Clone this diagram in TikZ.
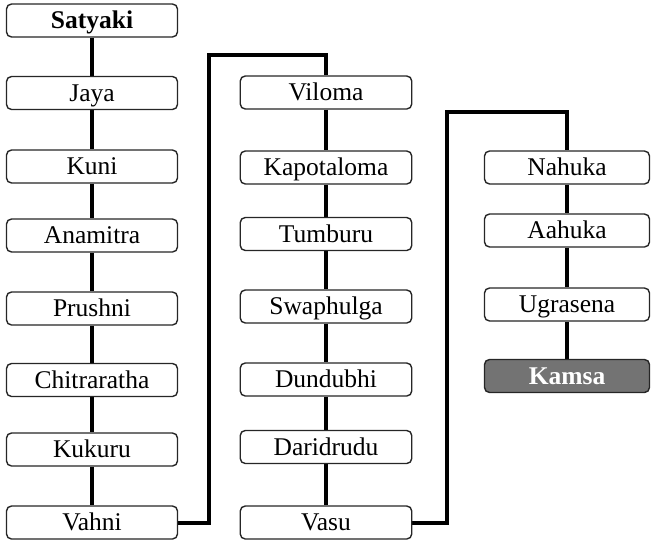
\documentclass[tikz,border=0pt]{standalone}
\usepackage{fontspec}
\setmainfont{Liberation Serif}
\usetikzlibrary{backgrounds}
\begin{document}
\begin{tikzpicture}[x=1pt,y=-1pt,
  box/.style={draw=black!85, line width=1.4pt, rounded corners=5pt, fill=white,
    minimum height=33pt, inner sep=0pt, text height=20pt, text depth=4pt,
    font=\fontsize{25.5}{25.5}\selectfont},
  cola/.style={box, minimum width=171pt},
  colb/.style={box, minimum width=171.5pt},
  colc/.style={box, minimum width=165pt},
  last/.style={fill=black!55, text=white, font=\fontsize{25.5}{25.5}\selectfont\bfseries},
  link/.style={line width=4pt, draw=black}]
\useasboundingbox (0,0) rectangle (651,542);
% column 1
\node[cola, font=\fontsize{25.5}{25.5}\selectfont\bfseries] (satyaki) at (92,20.5) {Satyaki};
\node[cola] (jaya) at (92,93) {Jaya};
\node[cola] (kuni) at (92,166.5) {Kuni};
\node[cola] (anamitra) at (92,235.5) {Anamitra};
\node[cola] (prushni) at (92,308.5) {Prushni};
\node[cola] (chitraratha) at (92,380) {Chitraratha};
\node[cola] (kukuru) at (92,449.5) {Kukuru};
\node[cola] (vahni) at (92,522.5) {Vahni};
% column 2
\node[colb] (viloma) at (326,92.5) {Viloma};
\node[colb] (kapotaloma) at (326,167.5) {Kapotaloma};
\node[colb] (tumburu) at (326,234) {Tumburu};
\node[colb] (swaphulga) at (326,306.5) {Swaphulga};
\node[colb] (dundubhi) at (326,379.5) {Dundubhi};
\node[colb] (daridrudu) at (326,447) {Daridrudu};
\node[colb] (vasu) at (326,522.5) {Vasu};
% column 3
\node[colc] (nahuka) at (567,167.5) {Nahuka};
\node[colc] (aahuka) at (567,230.5) {Aahuka};
\node[colc] (ugrasena) at (567,304.5) {Ugrasena};
\node[colc, last] (kamsa) at (567,376) {Kamsa};
% turning points
\coordinate (ta) at (208.5,55);
\coordinate (tb) at (447,111.5);
\begin{scope}[on background layer]
  \draw[link] (satyaki) -- (jaya) -- (kuni) -- (anamitra) -- (prushni)
    -- (chitraratha) -- (kukuru) -- (vahni);
  \draw[link] (viloma) -- (kapotaloma) -- (tumburu) -- (swaphulga)
    -- (dundubhi) -- (daridrudu) -- (vasu);
  \draw[link] (nahuka) -- (aahuka) -- (ugrasena) -- (kamsa);
  \draw[link] (vahni.east) -| (ta) -| (viloma.north);
  \draw[link] (vasu.east) -| (tb) -| (nahuka.north);
\end{scope}
\end{tikzpicture}
\end{document}
